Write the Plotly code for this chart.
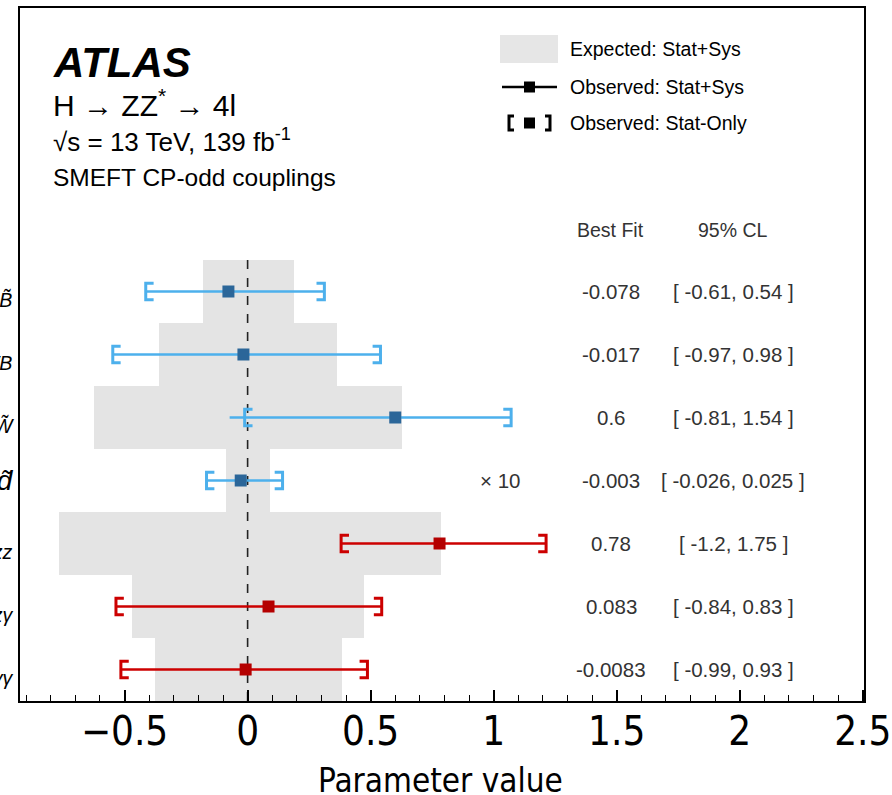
import plotly.graph_objects as go

# ---------------- data ----------------
params = ["<i>c<sub>HB̃</sub></i>", "<i>c<sub>HW̃B</sub></i>", "<i>c<sub>HW̃</sub></i>", "<i>d̃</i>",
          "<i>c̃<sub>zz</sub></i>", "<i>c̃<sub>zγ</sub></i>", "<i>c̃<sub>γγ</sub></i>"]
best_fit = [-0.078, -0.017, 0.60, -0.028, 0.78, 0.085, -0.008]
statsys_lo = [-0.414, -0.548, -0.073, -0.167, 0.38, -0.535, -0.515]
statsys_hi = [0.312, 0.54, 1.071, 0.142, 1.213, 0.545, 0.487]
stat_lo = [-0.414, -0.548, -0.012, -0.167, 0.38, -0.535, -0.515]
stat_hi = [0.312, 0.54, 1.071, 0.142, 1.213, 0.545, 0.487]
exp_lo = [-0.183, -0.361, -0.625, -0.089, -0.767, -0.471, -0.377]
exp_hi = [0.19, 0.365, 0.629, 0.093, 0.787, 0.475, 0.385]
group = ["warsaw", "warsaw", "warsaw", "warsaw", "higgs", "higgs", "higgs"]
bf_text = ["-0.078", "-0.017", "0.6", "-0.003", "0.78", "0.083", "-0.0083"]
cl_text = ["[ -0.61, 0.54 ]", "[ -0.97, 0.98 ]", "[ -0.81, 1.54 ]",
           "[ -0.026, 0.025 ]", "[ -1.2, 1.75 ]", "[ -0.84, 0.83 ]",
           "[ -0.99, 0.93 ]"]
scale_note = ["", "", "", "× 10", "", "", ""]

line_col = {"warsaw": "#4db0ec", "higgs": "#cc0000"}
mark_col = {"warsaw": "#2b6699", "higgs": "#b40000"}

rows = list(range(len(params)))
FONT = "Liberation Sans, Arial, Helvetica, sans-serif"
TICKFONT = "DejaVu Sans Condensed, Liberation Sans Narrow, Liberation Sans, sans-serif"

# page geometry helpers (paper coords from page pixels)
W, H = 892, 795
L, R, T, B = 20, 28, 8, 94
def px(p):
    return (p - L) / (W - L - R)
def py(p):
    return 1 - (p - T) / (H - T - B)

fig = go.Figure()

# expected bands
fig.add_trace(go.Bar(
    y=rows, x=[h - l for l, h in zip(exp_lo, exp_hi)], base=exp_lo,
    orientation="h", width=1.0, marker=dict(color="#e4e4e4", line=dict(width=0)),
    showlegend=False, hoverinfo="skip"))

# zero line
fig.add_trace(go.Scatter(x=[0, 0], y=[-0.5, 6.5], mode="lines",
                         line=dict(color="#222", width=1.6, dash="dash"),
                         showlegend=False, hoverinfo="skip"))

dx = 0.032   # bracket tick length (x units)
hy = 0.13    # bracket half-height (row units)
for g in ["warsaw", "higgs"]:
    idx = [i for i in rows if group[i] == g]
    lx, ly = [], []
    for i in idx:
        lx += [statsys_lo[i], statsys_hi[i], None]
        ly += [i, i, None]
    fig.add_trace(go.Scatter(x=lx, y=ly, mode="lines",
                             line=dict(color=line_col[g], width=2.5),
                             showlegend=False, hoverinfo="skip"))
    bx, by = [], []
    for i in idx:
        lo, hi = stat_lo[i], stat_hi[i]
        bx += [lo + dx, lo, lo, lo + dx, None, hi - dx, hi, hi, hi - dx, None]
        by += [i - hy, i - hy, i + hy, i + hy, None, i - hy, i - hy, i + hy, i + hy, None]
    fig.add_trace(go.Scatter(x=bx, y=by, mode="lines",
                             line=dict(color=line_col[g], width=3),
                             showlegend=False, hoverinfo="skip"))
    fig.add_trace(go.Scatter(x=[best_fit[i] for i in idx], y=idx, mode="markers",
                             marker=dict(symbol="square", size=12, color=mark_col[g],
                                         line=dict(width=0)),
                             showlegend=False, hoverinfo="skip"))

# table text
tfont = dict(family=FONT, size=20.5, color="#333")
for i in rows:
    fig.add_annotation(x=px(611), xref="paper", y=i, yref="y", text=bf_text[i],
                       xanchor="center", showarrow=False, font=tfont)
    fig.add_annotation(x=px(733), xref="paper", y=i, yref="y", text=cl_text[i],
                       xanchor="center", showarrow=False, font=tfont)
    if scale_note[i]:
        fig.add_annotation(x=px(500), xref="paper", y=i, yref="y", text=scale_note[i],
                           xanchor="center", showarrow=False, font=tfont)
hfont = dict(family=FONT, size=19.5, color="#333")
fig.add_annotation(x=px(610), xref="paper", y=py(230), yref="paper", text="Best Fit",
                   xanchor="center", yanchor="middle", showarrow=False, font=hfont)
fig.add_annotation(x=px(733), xref="paper", y=py(230), yref="paper", text="95% CL",
                   xanchor="center", yanchor="middle", showarrow=False, font=hfont)

# ATLAS labels
for yy, txt, sz in [(62, "<b><i>ATLAS</i></b>", 42),
                    (103, "H → ZZ<sup>*</sup> → 4l", 30),
                    (140, "√s = 13 TeV, 139 fb<sup>-1</sup>", 26),
                    (177, "SMEFT CP-odd couplings", 24.5)]:
    fig.add_annotation(x=px(51), xref="paper", y=py(yy), yref="paper", yanchor="middle",
                       xanchor="left", text=txt, showarrow=False,
                       font=dict(family=FONT, size=sz, color="black"))

# x-axis title
fig.add_annotation(x=px(440), xref="paper", y=py(780), yref="paper", yanchor="middle",
                   xanchor="center", text="Parameter value", showarrow=False,
                   font=dict(family=TICKFONT, size=33, color="black"))

# legend (drawn)
fig.add_shape(type="rect", xref="paper", yref="paper", x0=px(500), x1=px(558),
              y0=py(35), y1=py(63), fillcolor="#e6e6e6", line=dict(width=0))
fig.add_shape(type="line", xref="paper", yref="paper", x0=px(502), x1=px(557),
              y0=py(87), y1=py(87), line=dict(color="black", width=2.5))
fig.add_shape(type="rect", xref="paper", yref="paper", x0=px(524), x1=px(535),
              y0=py(81.5), y1=py(92.5), fillcolor="black", line=dict(width=0))
fig.add_shape(type="rect", xref="paper", yref="paper", x0=px(524), x1=px(535),
              y0=py(117.5), y1=py(128.5), fillcolor="black", line=dict(width=0))
fig.add_shape(type="path", xref="paper", yref="paper",
              path=f"M {px(514)} {py(116)} L {px(509)} {py(116)} L {px(509)} {py(130)} L {px(514)} {py(130)}",
              line=dict(color="black", width=3))
fig.add_shape(type="path", xref="paper", yref="paper",
              path=f"M {px(545)} {py(116)} L {px(550)} {py(116)} L {px(550)} {py(130)} L {px(545)} {py(130)}",
              line=dict(color="black", width=3))
for yy, t in [(49, "Expected: Stat+Sys"), (87, "Observed: Stat+Sys"), (123, "Observed: Stat-Only")]:
    fig.add_annotation(x=px(568), xref="paper", y=py(yy), yref="paper", text=t,
                       xanchor="left", yanchor="middle", showarrow=False,
                       font=dict(family=FONT, size=19.5, color="black"))

fig.update_layout(
    width=W, height=H,
    margin=dict(l=L, r=R, t=T, b=B, autoexpand=False),
    paper_bgcolor="white", plot_bgcolor="white",
    bargap=0,
    xaxis=dict(range=[-0.925, 2.505], tickmode="linear", tick0=0, dtick=0.5,
               ticks="inside", ticklen=11, tickwidth=1.5, tickcolor="black",
               minor=dict(dtick=0.1, ticks="inside", ticklen=6, tickwidth=1.2, tickcolor="black"),
               showline=True, linecolor="black", linewidth=2, mirror=True,
               showgrid=False, zeroline=False, automargin=False,
               tickfont=dict(family=TICKFONT, size=40, color="black"),
               ticklabelstandoff=-6),
    yaxis=dict(range=[6.5, -4.5], tickmode="array", tickvals=rows, ticktext=params,
               ticks="", showline=True, linecolor="black", linewidth=2, mirror=True,
               showgrid=False, zeroline=False, automargin=False,
               tickfont=dict(family=FONT, size=28, color="black")),
)

fig.write_html("out.html")
